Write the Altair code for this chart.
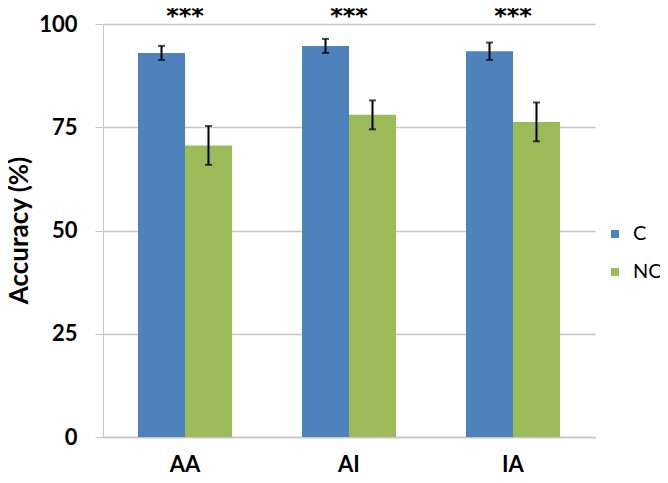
import altair as alt
import pandas as pd

conditions = ["AA", "AI", "IA"]
groups = ["C", "NC"]
acc_C = [93.0, 94.7, 93.4]
acc_NC = [70.6, 78.0, 76.3]
err_C = [1.7, 1.7, 2.1]
err_NC = [4.7, 3.5, 4.7]
stars = ["***", "***", "***"]

rows = []
for i, c in enumerate(conditions):
    rows.append({"cond": c, "grp": "C", "acc": acc_C[i], "lo": acc_C[i] - err_C[i], "hi": acc_C[i] + err_C[i]})
    rows.append({"cond": c, "grp": "NC", "acc": acc_NC[i], "lo": acc_NC[i] - err_NC[i], "hi": acc_NC[i] + err_NC[i]})
df = pd.DataFrame(rows)
sig = pd.DataFrame({"cond": conditions, "lab": stars, "y": [100] * 3})

FONT = "Lato"
GRID = "#C6C6C6"

xscale = alt.Scale(domain=conditions, paddingInner=0.427, paddingOuter=0.2135)
xoff = alt.Scale(domain=groups, paddingInner=0, paddingOuter=0)
yscale = alt.Scale(domain=[0, 100], nice=False)

x = alt.X("cond:N", scale=xscale, sort=conditions,
          axis=alt.Axis(title=None, labelFont=FONT, labelFontSize=22, labelFontWeight="bold",
                        labelColor="black", labelAngle=0, ticks=False, labelPadding=17,
                        domainColor=GRID, domainWidth=1.5))
xo = alt.XOffset("grp:N", scale=xoff)

bars = alt.Chart(df).mark_bar().encode(
    x=x, xOffset=xo,
    y=alt.Y("acc:Q", scale=yscale,
            axis=alt.Axis(values=[0, 25, 50, 75, 100], title="Accuracy (%)",
                          titleFont=FONT, titleFontSize=26, titleFontWeight="bold",
                          titleColor="black", titleAngle=270, titleX=-84, titleY=206,
                          titleAlign="center", titleBaseline="middle",
                          labelFont=FONT, labelFontSize=22, labelFontWeight="bold",
                          labelColor="black", labelPadding=18, tickSize=8, tickColor=GRID,
                          domainColor=GRID, gridColor=GRID, gridWidth=1.3)),
    color=alt.Color("grp:N", scale=alt.Scale(domain=groups, range=["#4F81BD", "#9BBB59"]),
                    legend=alt.Legend(title=None, orient="none", legendX=502, legendY=200,
                                      symbolType="square", symbolSize=64, symbolStrokeWidth=0,
                                      labelFont=FONT, labelFontSize=20, labelColor="black",
                                      labelOffset=8, rowPadding=18, labelLimit=60))
)

rules = alt.Chart(df).mark_rule(color="black", strokeWidth=2).encode(
    x=x, xOffset=xo, y="lo:Q", y2="hi:Q"
)
cap_lo = alt.Chart(df).mark_tick(color="black", thickness=2, size=7).encode(
    x=x, xOffset=xo, y="lo:Q"
)
cap_hi = alt.Chart(df).mark_tick(color="black", thickness=2, size=7).encode(
    x=x, xOffset=xo, y="hi:Q"
)
text = alt.Chart(sig).mark_text(font="DejaVu Sans", fontWeight="bold", fontSize=24,
                                 baseline="alphabetic", dy=0, color="black").encode(
    x=x, y=alt.Y("y:Q", scale=yscale), text="lab:N"
)

chart = alt.layer(bars, rules, cap_lo, cap_hi, text).properties(
    width=492, height=413, autosize=alt.AutoSizeParams(type="none"),
    padding={"left": 95, "top": 16, "right": 65, "bottom": 38}
).configure_view(stroke=None).configure_axis(gridDash=[])

chart.save("out.html", embed_options={"renderer": "svg", "actions": False})
